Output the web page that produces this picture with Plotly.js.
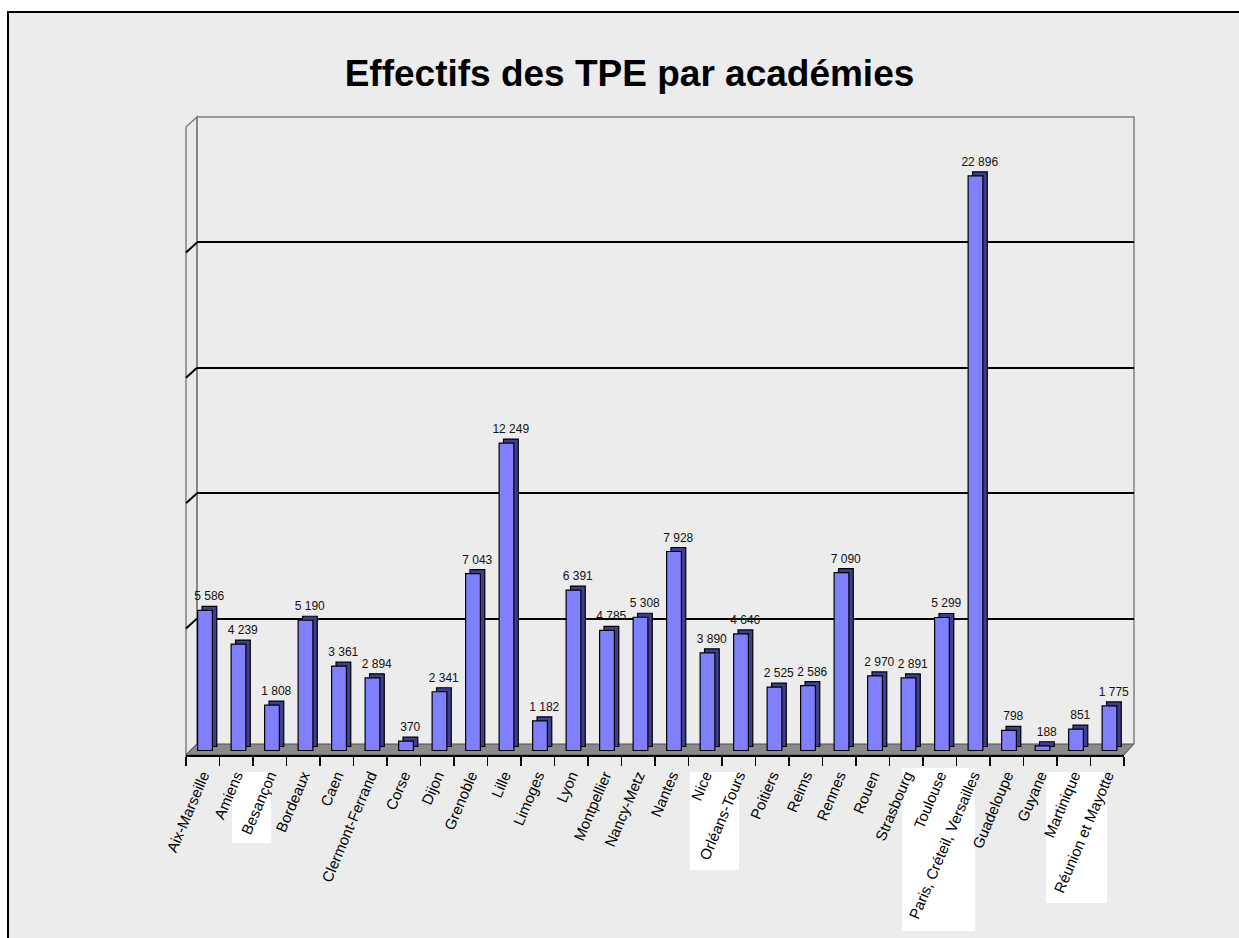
<!DOCTYPE html>
<html>
<head>
<meta charset="utf-8">
<script src="https://cdn.plot.ly/plotly-3.0.1.min.js"></script>
<style>html,body{margin:0;padding:0;background:#fff;}#chart{width:1239px;height:938px;}</style>
</head>
<body>
<div id="chart"></div>
<script>
// ---- Data ----
const categories = ["Aix-Marseille","Amiens","Besançon","Bordeaux","Caen","Clermont-Ferrand","Corse","Dijon","Grenoble","Lille","Limoges","Lyon","Montpellier","Nancy-Metz","Nantes","Nice","Orléans-Tours","Poitiers","Reims","Rennes","Rouen","Strasbourg","Toulouse","Paris, Créteil, Versailles","Guadeloupe","Guyane","Martinique","Réunion et Mayotte"];
const values = [5586,4239,1808,5190,3361,2894,370,2341,7043,12249,1182,6391,4785,5308,7928,3890,4646,2525,2586,7090,2970,2891,5299,22896,798,188,851,1775];
const gridValues = [5000,10000,15000,20000];
const chartTitle = "Effectifs des TPE par académies";

// ---- Helpers ----
const W = 1239, H = 938;
const fx = p => p / W;
const fy = p => 1 - p / H;
const fmt = v => v.toString().replace(/\B(?=(\d{3})+(?!\d))/g, " ");
const labels = values.map(fmt);

const unitsPerPx = 25000 / 627;
const depthPx = 4.4;
const catPx = 938 / 28;
const barW = 0.44;
const frontOffset = -0.22 + 2.25 / catPx;
const depthOffset = frontOffset + depthPx / catPx;

const font = "Liberation Sans, Arial, sans-serif";

const traces = [
  {type:"scatter", x:[], y:[], xaxis:"x", yaxis:"y", showlegend:false, hoverinfo:"skip"},
  {
    type:"bar", x:categories, y:values, base:4 * unitsPerPx,
    xaxis:"x2", yaxis:"y2", width:barW, offset:depthOffset,
    marker:{color:"#3e3e8e", line:{color:"#000", width:1.2}},
    text:labels, textposition:"outside", cliponaxis:false, constraintext:"none",
    textfont:{family:font, size:12, color:"#111"},
    hoverinfo:"skip", showlegend:false
  },
  {
    type:"bar", x:categories, y:values,
    xaxis:"x2", yaxis:"y2", width:barW, offset:frontOffset,
    marker:{color:"#8080ff", line:{color:"#000", width:1.2}},
    hoverinfo:"x+y", showlegend:false
  }
];

const shapes = [];
// page frame with background
shapes.push({type:"rect", xref:"paper", yref:"paper", x0:fx(8), y0:-0.05, x1:1.05, y1:fy(12),
  fillcolor:"#ececec", line:{color:"#000", width:2}, layer:"below"});
// left side wall
shapes.push({type:"path", xref:"paper", yref:"paper",
  path:`M${fx(186)},${fy(755)} L${fx(186)},${fy(127)} L${fx(197)},${fy(117)} L${fx(197)},${fy(744)} Z`,
  fillcolor:"#eaeaea", line:{color:"#808080", width:1.5}, layer:"below"});
// back wall border
shapes.push({type:"path", xref:"paper", yref:"paper",
  path:`M${fx(197)},${fy(744)} L${fx(197)},${fy(117)} L${fx(1134)},${fy(117)} L${fx(1134)},${fy(744)}`,
  line:{color:"#808080", width:1.5}, layer:"below"});
// floor
shapes.push({type:"path", xref:"paper", yref:"paper",
  path:`M${fx(186)},${fy(755)} L${fx(197)},${fy(744)} L${fx(1134)},${fy(744)} L${fx(1124)},${fy(755)} Z`,
  fillcolor:"#8a8a8a", line:{color:"#505050", width:1}, layer:"below"});
// gridline diagonals on side wall
gridValues.forEach(g => {
  shapes.push({type:"line", xref:"paper", yref:"y", x0:fx(186), y0:g - 10 * unitsPerPx, x1:fx(197), y1:g,
    line:{color:"#000", width:2}, layer:"below"});
});
// white label boxes
[[232,772,271,843],[690,772,739,870],[902,768,975,931],[1046,772,1107,903]].forEach(b => {
  shapes.push({type:"rect", xref:"paper", yref:"paper", x0:fx(b[0]), y0:fy(b[3]), x1:fx(b[2]), y1:fy(b[1]),
    fillcolor:"#ffffff", line:{width:0}, layer:"below"});
});

const layout = {
  width:W, height:H,
  margin:{l:0, r:0, t:0, b:0},
  paper_bgcolor:"#ffffff",
  plot_bgcolor:"rgba(0,0,0,0)",
  showlegend:false,
  barmode:"overlay",
  title:{text:"<b>" + chartTitle + "</b>", font:{family:font, size:37, color:"#000"},
    x:fx(629.5), xanchor:"center", xref:"paper", y:fy(73), yanchor:"middle", yref:"paper"},
  xaxis:{domain:[fx(197), fx(1134)], anchor:"y", range:[0,1], showgrid:false, zeroline:false,
    showline:false, showticklabels:false, ticks:"", fixedrange:true},
  yaxis:{domain:[fy(744), fy(117)], anchor:"x", range:[0,25000], tickmode:"array", tickvals:gridValues,
    showgrid:true, gridcolor:"#000", gridwidth:2, zeroline:false, showline:false,
    showticklabels:false, ticks:"", fixedrange:true},
  xaxis2:{domain:[fx(186), fx(1124)], anchor:"y2", type:"category", range:[-0.5, 27.5],
    tickson:"boundaries", ticks:"outside", ticklen:9, tickwidth:1.5, tickcolor:"#000",
    showline:true, linecolor:"#000", linewidth:2, showgrid:false, zeroline:false,
    ticklabelstandoff:4,
    tickangle:-67, tickfont:{family:font, size:15, color:"#000"}, fixedrange:true},
  yaxis2:{domain:[fy(755), fy(123)], anchor:"x2", range:[-4.5 * unitsPerPx, 25000],
    visible:false, showgrid:false, zeroline:false, fixedrange:true},
  shapes:shapes
};

Plotly.newPlot("chart", traces, layout, {displayModeBar:false, staticPlot:true});
</script>
</body>
</html>
